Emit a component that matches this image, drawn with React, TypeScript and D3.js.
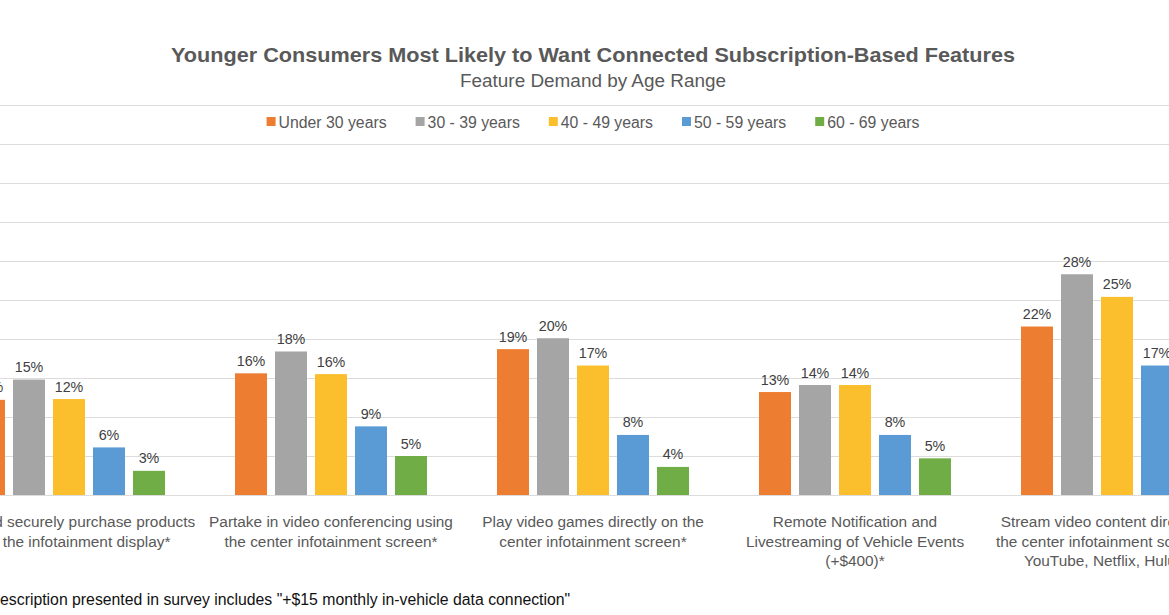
import React, { useEffect, useRef } from 'react';
import * as d3 from 'd3';

const W = 1169;
const H = 615;

const title = 'Younger Consumers Most Likely to Want Connected Subscription-Based Features';
const subtitle = 'Feature Demand by Age Range';
const footnote = '*Description presented in survey includes "+$15 monthly in-vehicle data connection"';

const categories = [
  'Find and securely purchase products|from the infotainment display*',
  'Partake in video conferencing using|the center infotainment screen*',
  'Play video games directly on the|center infotainment screen*',
  'Remote Notification and|Livestreaming of Vehicle Events|(+$400)*',
  'Stream video content directly onto|the center infotainment screen (e.g.|YouTube, Netflix, Hulu, etc)',
];

const seriesNames = ['Under 30 years', '30 - 39 years', '40 - 49 years', '50 - 59 years', '60 - 69 years'];
const seriesColors = ['#ED7D31', '#A5A5A5', '#FBBF2E', '#5B9BD5', '#70AD47'];

const under30 = [12.2, 15.6, 18.7, 13.2, 21.6];
const age30to39 = [14.8, 18.4, 20.1, 14.1, 28.3];
const age40to49 = [12.3, 15.5, 16.6, 14.1, 25.4];
const age50to59 = [6.1, 8.8, 7.7, 7.7, 16.6];
const age60to69 = [3.1, 5.0, 3.6, 4.7, 11.0];

const seriesValues = [under30, age30to39, age40to49, age50to59, age60to69];

const yTicks = [0, 5, 10, 15, 20, 25, 30, 35, 40, 45, 50];

const FONT = '"Liberation Sans", Arial, Helvetica, sans-serif';

export default function App() {
  const ref = useRef<SVGSVGElement>(null);

  useEffect(() => {
    const svg = d3.select(ref.current);
    svg.selectAll('*').remove();

    const plotLeft = -62;
    const step = 262;
    const plotRight = plotLeft + step * categories.length;
    const yTop = 105;
    const yBottom = 495;
    const cx = 593;

    const y = d3.scaleLinear().domain([0, 50]).range([yBottom, yTop]);
    const x0 = d3.scaleBand<number>().domain(categories.map((_, i) => i)).range([plotLeft, plotRight]);
    const x1 = d3
      .scaleBand<string>()
      .domain(seriesNames)
      .range([0, x0.bandwidth()])
      .paddingInner(0.2)
      .paddingOuter(0.875);

    svg.append('rect').attr('width', W).attr('height', H).attr('fill', '#ffffff');

    // gridlines
    svg
      .append('g')
      .selectAll('line')
      .data(yTicks)
      .join('line')
      .attr('x1', plotLeft - 10)
      .attr('x2', W + 200)
      .attr('y1', (d) => Math.round(y(d)) + 0.5)
      .attr('y2', (d) => Math.round(y(d)) + 0.5)
      .attr('stroke', '#DCDCDC')
      .attr('stroke-width', 1);

    // bars
    const groups = svg
      .append('g')
      .selectAll('g')
      .data(categories.map((_, i) => i))
      .join('g')
      .attr('transform', (i) => `translate(${x0(i)},0)`);

    groups.each(function (ci) {
      const g = d3.select(this);
      const rows = seriesNames.map((s, si) => ({ s, si, v: seriesValues[si][ci] }));
      g.selectAll('rect')
        .data(rows)
        .join('rect')
        .attr('x', (d) => x1(d.s)!)
        .attr('width', x1.bandwidth())
        .attr('y', (d) => y(d.v))
        .attr('height', (d) => y(0) - y(d.v))
        .attr('fill', (d) => seriesColors[d.si]);
      g.selectAll('text')
        .data(rows)
        .join('text')
        .attr('x', (d) => x1(d.s)! + x1.bandwidth() / 2)
        .attr('y', (d) => y(d.v) - 7.5)
        .attr('text-anchor', 'middle')
        .attr('font-family', FONT)
        .attr('font-size', 14.3)
        .attr('fill', '#404040')
        .text((d) => `${Math.round(d.v)}%`);
    });

    // category labels
    const catG = svg.append('g');
    categories.forEach((c, i) => {
      const lines = c.split('|');
      const t = catG
        .append('text')
        .attr('text-anchor', 'middle')
        .attr('font-family', FONT)
        .attr('font-size', 15.4)
        .attr('fill', '#595959');
      lines.forEach((ln, li) => {
        t.append('tspan')
          .attr('x', x0(i)! + x0.bandwidth() / 2)
          .attr('y', 527 + li * 19.5)
          .text(ln);
      });
    });

    // title
    svg
      .append('text')
      .attr('x', cx)
      .attr('y', 62)
      .attr('text-anchor', 'middle')
      .attr('font-family', FONT)
      .attr('font-weight', 'bold')
      .attr('font-size', 20.5)
      .attr('textLength', 844)
      .attr('lengthAdjust', 'spacingAndGlyphs')
      .attr('fill', '#595959')
      .text(title);
    svg
      .append('text')
      .attr('x', cx)
      .attr('y', 86.5)
      .attr('text-anchor', 'middle')
      .attr('font-family', FONT)
      .attr('font-size', 17.5)
      .attr('textLength', 266)
      .attr('lengthAdjust', 'spacingAndGlyphs')
      .attr('fill', '#595959')
      .text(subtitle);

    // legend
    const legend = svg.append('g');
    const items = seriesNames.map((s, i) => {
      const g = legend.append('g');
      g.append('rect').attr('x', 0).attr('y', -5).attr('width', 9).attr('height', 9).attr('fill', seriesColors[i]);
      const t = g
        .append('text')
        .attr('x', 12)
        .attr('y', 5.5)
        .attr('font-family', FONT)
        .attr('font-size', 15.8)
        .attr('fill', '#595959')
        .text(s);
      const w = (t.node() as SVGTextElement).getComputedTextLength();
      return { g, w: 12 + w };
    });
    const gap = 29;
    const total = d3.sum(items, (d) => d.w) + gap * (items.length - 1);
    let xx = cx - total / 2;
    items.forEach((it) => {
      it.g.attr('transform', `translate(${xx},122)`);
      xx += it.w + gap;
    });

    // footnote
    svg
      .append('text')
      .attr('x', -17.5)
      .attr('y', 605)
      .attr('font-family', FONT)
      .attr('font-size', 15.8)
      .attr('fill', '#111111')
      .text(footnote);
  }, []);

  return (
    <div style={{ position: 'absolute', left: 0, top: 0, width: W, height: H, overflow: 'hidden' }}>
      <svg ref={ref} width={W} height={H} style={{ display: 'block', overflow: 'hidden' }} />
    </div>
  );
}
